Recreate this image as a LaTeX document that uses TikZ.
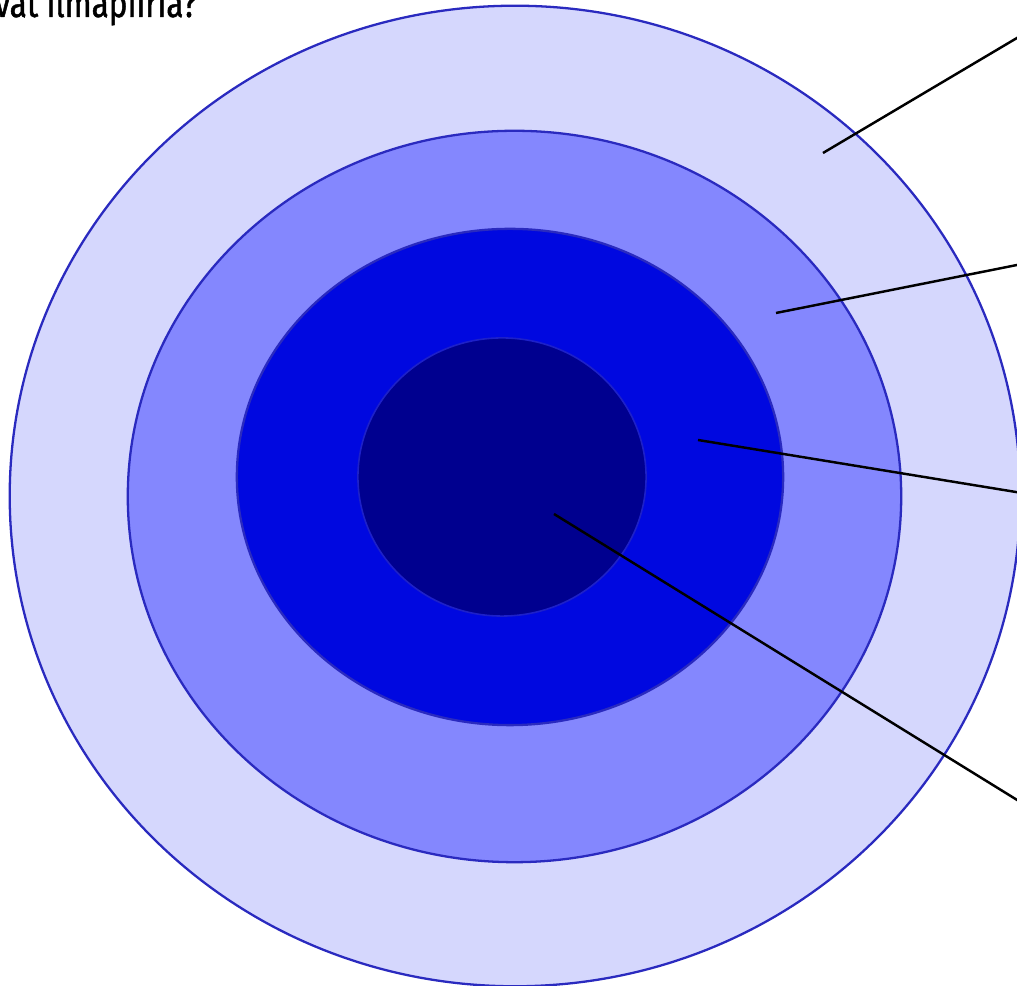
\documentclass[tikz,border=0pt]{standalone}
\usepackage{fontspec}
\usepackage{xcolor}
\usetikzlibrary{shapes.geometric}
\newfontfamily\titlefont[FakeStretch=0.8, FakeBold=1.2]{Fira Sans}

\definecolor{ringA}{HTML}{D5D7FD}
\definecolor{ringB}{HTML}{8487FE}
\definecolor{ringC}{HTML}{0008E0}
\definecolor{ringD}{HTML}{00008F}
\definecolor{ringline}{HTML}{2A2ABF}

\begin{document}
\begin{tikzpicture}[x=0.01cm, y=-0.01cm,
  ring/.style={ellipse, draw=ringline, line width=0.65pt, inner sep=0pt},
  pointer/.style={draw=black, line width=0.7pt}]
 \useasboundingbox (0,0) rectangle (1017,986);
 % rings, outer to inner
 \node[ring, fill=ringA, minimum width=10.1cm, minimum height=9.8cm] (OUTER) at (515,496) {};
 \node[ring, fill=ringB, minimum width=7.73cm, minimum height=7.31cm] (SECOND) at (514.5,496.5) {};
 \node[ring, fill=ringC, minimum width=5.46cm, minimum height=4.96cm] (THIRD) at (510,477) {};
 \node[ring, fill=ringD, draw=ringline!70!ringC, line width=0.45pt, minimum width=2.88cm, minimum height=2.78cm] (CORE) at (502,477) {};
 % title, cut off at the edge
 \node[anchor=base west, inner sep=0pt, font=\titlefont\fontsize{11.2}{12}\selectfont] (TITLE) at (-6,17) {vat ilmapiiria?};
 % pointers
 \coordinate (pA) at (823,153);
 \coordinate (pB) at (776,313);
 \coordinate (pC) at (698,440);
 \coordinate (pD) at (554,514);
 \coordinate (eA) at (1022,35);
 \coordinate (eB) at (1022,264);
 \coordinate (eC) at (1022,493);
 \coordinate (eD) at (1022,803);
 \draw[pointer] (pA) -- (eA);
 \draw[pointer] (pB) -- (eB);
 \draw[pointer] (pC) -- (eC);
 \draw[pointer] (pD) -- (eD);
\end{tikzpicture}
\end{document}
